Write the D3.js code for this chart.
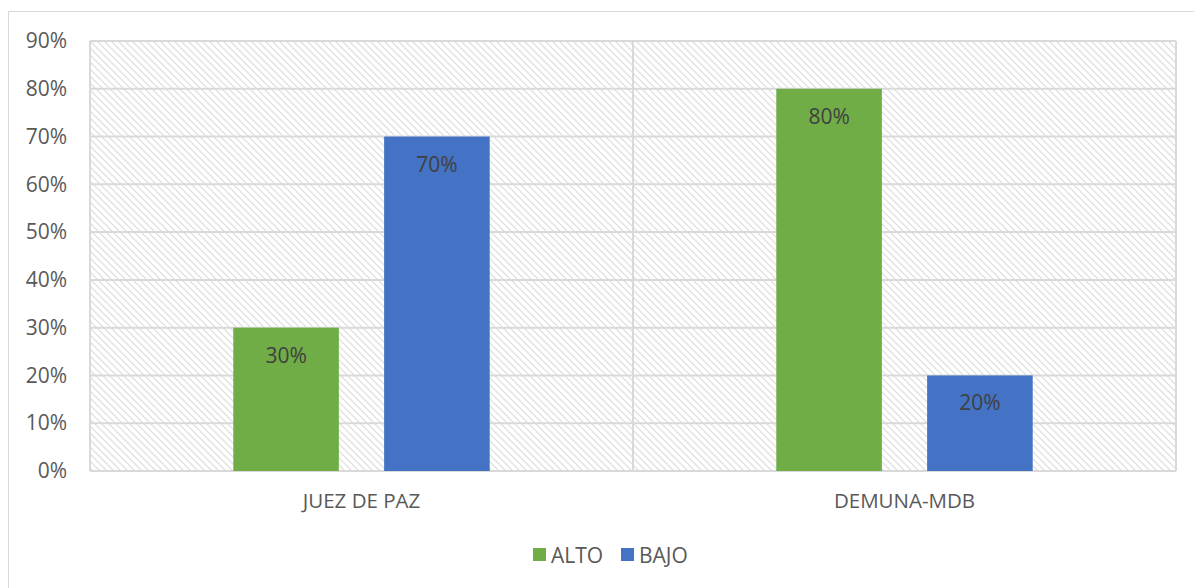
<!DOCTYPE html>
<html><head><meta charset="utf-8">
<script src="https://cdn.jsdelivr.net/npm/d3@7"></script>
<style>body{margin:0;background:#fff}svg{display:block}text{font-family:"Open Sans","Liberation Sans",sans-serif}</style>
</head><body><svg id="c" width="1194" height="588"></svg>
<script>
const categories = ["JUEZ DE PAZ", "DEMUNA-MDB"];
const seriesNames = ["ALTO", "BAJO"];
const alto = [0.30, 0.80];
const bajo = [0.70, 0.20];
const yTicks = [0, 0.1, 0.2, 0.3, 0.4, 0.5, 0.6, 0.7, 0.8, 0.9];
const colors = ["#70AD47", "#4472C4"];

const svg = d3.select("#c");
const defs = svg.append("defs");
const pat = defs.append("pattern").attr("id","hatch").attr("patternUnits","userSpaceOnUse")
  .attr("width",7).attr("height",7);
pat.append("rect").attr("width",7).attr("height",7).attr("fill","#fff");
pat.append("path").attr("d","M-1,-1 L8,8 M-1,6 L1,8 M6,-1 L8,1").attr("stroke","#dcdcdc").attr("stroke-width",1.2);

// outer border
svg.append("rect").attr("x",8.5).attr("y",11.5).attr("width",1200).attr("height",600)
  .attr("fill","none").attr("stroke","#d9d9d9").attr("stroke-width",1);

const x0 = d3.scaleBand().domain(categories).range([90,1176]).paddingInner(0).paddingOuter(0);
const x1 = d3.scaleBand().domain(seriesNames).range([0,x0.bandwidth()]).paddingInner(0.3).paddingOuter(0.95);
const y = d3.scaleLinear().domain([0,0.9]).range([471,41]);

svg.append("rect").attr("x",90).attr("y",41).attr("width",1086).attr("height",430).attr("fill","url(#hatch)");

// gridlines
svg.append("g").selectAll("line").data(yTicks).join("line")
  .attr("x1",90).attr("x2",1176).attr("y1",d=>y(d)).attr("y2",d=>y(d))
  .attr("stroke","#d9d9d9").attr("stroke-width",2);
// vertical lines
const vx = [90, 633, 1176];
svg.append("g").selectAll("line").data(vx).join("line")
  .attr("x1",d=>d).attr("x2",d=>d).attr("y1",41).attr("y2",471)
  .attr("stroke","#d9d9d9").attr("stroke-width",2);

const FF = "'Open Sans','Liberation Sans',sans-serif";
// y axis labels
const yAxis = d3.axisLeft(y).tickValues(yTicks).tickFormat(d3.format(".0%")).tickSize(0).tickPadding(23);
const ga = svg.append("g").attr("transform","translate(90,0)").call(yAxis);
ga.attr("font-size",null).attr("font-family",null);
ga.select(".domain").remove();
ga.selectAll("text").style("font-size","21px").attr("fill","#595959").style("font-family",FF);

// x labels
const xAxis = d3.axisBottom(x0).tickSize(0).tickPadding(22);
const gx = svg.append("g").attr("transform","translate(0,471)").call(xAxis);
gx.attr("font-size",null).attr("font-family",null);
gx.select(".domain").remove();
gx.selectAll("text").style("font-size","20.5px").attr("fill","#595959").style("font-family",FF);

const data = categories.map((c,i)=>({cat:c, vals:[{s:"ALTO",v:alto[i]},{s:"BAJO",v:bajo[i]}]}));
const g = svg.append("g").selectAll("g").data(data).join("g")
  .attr("transform",d=>`translate(${x0(d.cat)},0)`);
g.selectAll("rect").data(d=>d.vals).join("rect")
  .attr("x",d=>x1(d.s)).attr("width",x1.bandwidth())
  .attr("y",d=>y(d.v)).attr("height",d=>y(0)-y(d.v))
  .attr("fill",(d,i)=>colors[i]);
g.selectAll("text.lbl").data(d=>d.vals).join("text").attr("class","lbl")
  .attr("x",d=>x1(d.s)+x1.bandwidth()/2).attr("y",d=>y(d.v)+35)
  .attr("text-anchor","middle").style("font-size","21px").attr("fill","#404040")
  .text(d=>d3.format(".0%")(d.v));

// legend
const leg = svg.append("g").attr("transform","translate(533,555)");
const items = [{n:"ALTO",c:colors[0],x:0},{n:"BAJO",c:colors[1],x:88}];
const li = leg.selectAll("g").data(items).join("g").attr("transform",d=>`translate(${d.x},0)`);
li.append("rect").attr("x",0).attr("y",-7).attr("width",13).attr("height",13).attr("fill",d=>d.c);
li.append("text").attr("x",18).attr("y",7.5).style("font-size","21px").attr("fill","#595959").text(d=>d.n);
</script></body></html>
